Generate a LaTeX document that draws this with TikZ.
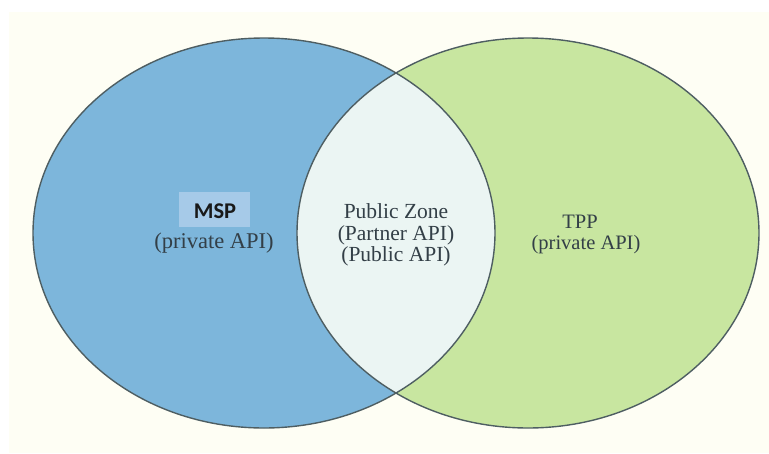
\documentclass[tikz,border=0pt]{standalone}
\usepackage{fontspec}
\setmainfont{Liberation Serif}
\newfontfamily\calib{Carlito}
\definecolor{bgcream}{HTML}{FEFEF4}
\definecolor{mspblue}{HTML}{7DB6DB}
\definecolor{tppgreen}{HTML}{C8E6A0}
\definecolor{zonecol}{HTML}{EBF5F3}
\definecolor{edgecol}{HTML}{4E5E62}
\definecolor{txtcol}{HTML}{333F47}
\definecolor{mspbox}{HTML}{A6CAE8}
\tikzset{
  lbl/.style={text=txtcol, align=center, inner sep=0pt, anchor=base},
}
\begin{document}
\begin{tikzpicture}[x=1pt,y=-1pt]
\useasboundingbox (0,0) rectangle (769,453);
\fill[white] (0,0) rectangle (769,453);
\fill[bgcream] (9,12) rectangle (769,453);
% ellipses
\fill[mspblue] (264,233) ellipse [x radius=231, y radius=195];
\fill[tppgreen] (528,233) ellipse [x radius=231, y radius=195];
\begin{scope}
  \clip (264,233) ellipse [x radius=231, y radius=195];
  \fill[zonecol] (528,233) ellipse [x radius=231, y radius=195];
\end{scope}
\draw[edgecol, line width=1.4pt] (264,233) ellipse [x radius=231, y radius=195];
\draw[edgecol, line width=1.4pt] (528,233) ellipse [x radius=231, y radius=195];
% MSP
\fill[mspbox] (179,192) rectangle (250,227);
\node[anchor=base, inner sep=0pt, text=black!90] (msp) at (215,218) {\calib\bfseries\fontsize{22.5}{24}\selectfont MSP};
\node[lbl] (msppriv) at (214,248) {\fontsize{22.5}{24}\selectfont (private API)};
% Public zone
\node[lbl] (pz1) at (396,218) {\fontsize{21.5}{22}\selectfont Public Zone};
\node[lbl] (pz2) at (396,240) {\fontsize{21.5}{22}\selectfont (Partner API)};
\node[lbl] (pz3) at (396,261) {\fontsize{21.5}{22}\selectfont (Public API)};
% TPP
\node[lbl] (tpp) at (580,228) {\fontsize{20.5}{22}\selectfont TPP};
\node[lbl] (tpppriv) at (586,249) {\fontsize{20.5}{22}\selectfont (private API)};
\end{tikzpicture}
\end{document}
